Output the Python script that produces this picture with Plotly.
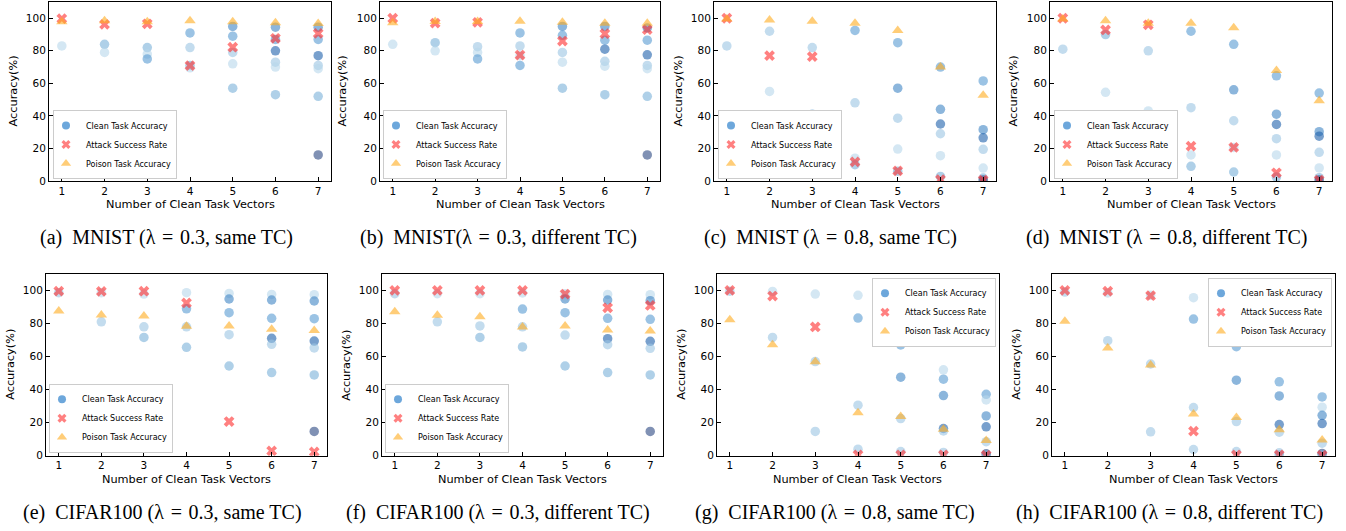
import plotly.graph_objects as go

W, H = 1346, 531

x_vals = [1, 2, 3, 4, 5, 6, 7]
y_ticks = [0, 20, 40, 60, 80, 100]
series_names = ["Clean Task Accuracy", "Attack Success Rate", "Poison Task Accuracy"]
x_title = "Number of Clean Task Vectors"
y_title = "Accuracy(%)"

captions = [
    "(a)\u2002MNIST (\u03bb\u2004=\u20040.3, same TC)",
    "(b)\u2002MNIST(\u03bb\u2004=\u20040.3, different TC)",
    "(c)\u2002MNIST (\u03bb\u2004=\u20040.8, same TC)",
    "(d)\u2002MNIST (\u03bb\u2004=\u20040.8, different TC)",
    "(e)\u2002CIFAR100 (\u03bb\u2004=\u20040.3, same TC)",
    "(f)\u2002CIFAR100 (\u03bb\u2004=\u20040.3, different TC)",
    "(g)\u2002CIFAR100 (\u03bb\u2004=\u20040.8, same TC)",
    "(h)\u2002CIFAR100 (\u03bb\u2004=\u20040.8, different TC)",
]

# ---- (a) MNIST, lambda 0.3, same TC ----
a_clean = [[83], [84, 79], [82, 78, 75], [91, 82, 71, 69.5], [95, 89, 79, 72, 57],
           [94.5, 87, 80, 73, 70, 53], [94.5, 87, 77, 71, 69, 52, 16]]
a_task = [[1], [3, 1], [3, 1, 4], [4, 2, 3, 1], [5, 4, 2, 1, 3],
          [5, 4, 6, 2, 1, 3], [5, 4, 6, 2, 1, 3, 7]]
a_asr = [99.8, 96.2, 96.6, 70.9, 82.2, 87.7, 90.7]
a_pta = [97.8, 98.4, 97.8, 98.4, 97.8, 97.2, 96.8]

# ---- (b) MNIST, lambda 0.3, different TC ----
b_clean = [[84], [85, 80], [82.5, 79, 75], [91, 83, 77, 71], [95, 89.5, 79, 73, 57],
           [95, 86.5, 81, 73.5, 70.5, 53], [94, 86.5, 77.5, 71, 69, 52, 16]]
b_task = [[1], [3, 1], [2, 1, 4], [4, 2, 1, 4], [5, 4, 2, 1, 3],
          [5, 4, 6, 2, 1, 3], [5, 4, 6, 2, 1, 3, 7]]
b_asr = [100, 97, 97.5, 77.4, 86, 90.5, 93]
b_pta = [97.2, 98, 98, 98.2, 97.6, 97, 97]

# ---- (c) MNIST, lambda 0.8, same TC ----
c_clean = [[83], [92, 55], [82, 41], [92.5, 48, 14, 10], [85, 57, 38.6, 19.6, 6],
           [70, 44, 35, 29, 15.5, 2.8], [61.5, 31.5, 26.5, 19.4, 7.9, 1.8, 0.5]]
c_task = [[2], [2, 1], [2, 4], [4, 2, 1, 3], [4, 5, 2, 1, 3],
          [4, 5, 6, 2, 1, 3], [4, 5, 6, 2, 1, 3, 7]]
c_asr = [100, 77, 76.4, 11.7, 6.2, 0.8, 0.5]
c_pta = [99.5, 99, 98.2, 97, 92.5, 70, 52.7]

# ---- (d) MNIST, lambda 0.8, different TC ----
d_clean = [[81], [90, 54.5], [80, 43, 37.5], [92, 45, 16, 9], [84, 56, 37, 20.6, 5.5],
           [64.6, 41, 34.7, 26, 16, 2.4], [54, 30.3, 27.5, 17.6, 8, 2, 0.5]]
d_task = [[2], [3, 1], [2, 1, 4], [4, 2, 1, 3], [4, 5, 2, 1, 3],
          [4, 5, 6, 2, 1, 3], [4, 5, 6, 2, 1, 3, 7]]
d_asr = [100, 92.8, 96, 21.4, 20.6, 5, 0.5]
d_pta = [99.5, 98.5, 97, 97, 94.1, 67.9, 49.3]

# ---- (e) CIFAR100, lambda 0.3, same TC ----
e_clean = [[98.6], [98.6, 81], [97.8, 78, 71.6], [98.6, 88.9, 78, 65.6],
           [98.2, 94.8, 86.5, 73.2, 54.3], [97.6, 94.2, 83.1, 71, 67.4, 50.3],
           [97.4, 93.6, 82.9, 69.4, 65.2, 48.9, 14.7]]
e_task = [[2], [1, 2], [1, 2, 3], [1, 4, 2, 3], [1, 5, 4, 2, 3],
          [1, 5, 4, 6, 2, 3], [1, 5, 4, 6, 2, 3, 7]]
e_asr = [99.6, 99.4, 99.5, 92.4, 20.7, 3, 2.4]
e_pta = [87.5, 85.1, 84.5, 78.3, 78.5, 76.5, 75.7]

# ---- (f) CIFAR100, lambda 0.3, different TC ----
f_clean = [[98], [98, 81], [98, 78.5, 71.6], [98.5, 88.7, 78, 65.8],
           [98, 94.8, 86.5, 73, 54.3], [97.6, 94.2, 83.1, 70.8, 67.2, 50.3],
           [97.4, 93.8, 82.5, 69.2, 65, 48.9, 14.7]]
f_task = [[2], [1, 2], [1, 2, 3], [1, 4, 2, 3], [1, 5, 4, 2, 3],
          [1, 5, 4, 6, 2, 3], [1, 5, 4, 6, 2, 3, 7]]
f_asr = [100, 100, 100, 100, 97.8, 89.5, 90.9]
f_pta = [87.1, 85, 84.1, 77.9, 78.5, 76, 75.5]

# ---- (g) CIFAR100, lambda 0.8, same TC ----
g_clean = [[99.5], [99.4, 71.6], [97.8, 57, 14.7], [97, 83.3, 30.6, 4],
           [91, 67, 47.5, 22.5, 2.6], [52, 46.3, 36.4, 16.5, 15, 2],
           [37.2, 33.8, 24.1, 17.5, 8.5, 1.2, 0.5]]
g_task = [[2], [1, 2], [1, 2, 2], [1, 4, 2, 2], [1, 4, 5, 2, 2],
          [1, 4, 5, 6, 2, 2], [4, 1, 5, 6, 2, 7, 3]]
g_asr = [100, 96.6, 77.9, 0.5, 0.5, 0.5, 0.3]
g_pta = [82.3, 67.2, 56.9, 26, 23.7, 16.1, 9.3]

# ---- (h) CIFAR100, lambda 0.8, different TC ----
h_clean = [[99], [98.5, 69.6], [97, 55.5, 14.5], [95.6, 82.7, 29.2, 3.8],
           [85.9, 66, 45.7, 20.7, 2.6], [44.7, 36.2, 18.9, 14.3, 1.8, 0.5],
           [35.6, 29.4, 24.5, 19.5, 7.6, 1.4, 0.5]]
h_task = [[2], [1, 2], [1, 2, 2], [1, 4, 2, 2], [1, 4, 5, 2, 2],
          [4, 5, 6, 2, 2, 3], [4, 1, 5, 6, 2, 7, 3]]
h_asr = [100, 99.5, 96.8, 14.9, 0.5, 0.5, 0.3]
h_pta = [81.3, 65.2, 54.9, 25.2, 23.1, 15.7, 9.5]

panels = [
    (a_clean, a_task, a_asr, a_pta), (b_clean, b_task, b_asr, b_pta),
    (c_clean, c_task, c_asr, c_pta), (d_clean, d_task, d_asr, d_pta),
    (e_clean, e_task, e_asr, e_pta), (f_clean, f_task, f_asr, f_pta),
    (g_clean, g_task, g_asr, g_pta), (h_clean, h_task, h_asr, h_pta),
]

# ---------------- styling / geometry ----------------
task_colors = {
    1: "rgba(183,215,235,0.6)",
    2: "rgba(155,197,227,0.6)",
    3: "rgba(122,177,217,0.6)",
    4: "rgba(88,155,210,0.6)",
    5: "rgba(63,133,197,0.6)",
    6: "rgba(30,97,172,0.6)",
    7: "rgba(43,72,130,0.6)",
}
legend_clean_color = "rgba(30,120,200,0.65)"
asr_color = "rgba(255,43,43,0.6)"
pta_color = "rgba(255,172,30,0.6)"

# axes boxes in pixels: (left, right, top, bottom)
boxes = [
    (49, 331, 2, 183), (380, 660, 2, 183), (714, 996, 2, 183), (1050, 1332, 2, 183),
    (46, 327, 277, 461), (382, 663, 277, 461), (717, 999, 277, 461), (1052, 1335, 277, 461),
]
ytitle_x = [13, 342, 678, 1013, 11, 347, 682, 1017]
caption_x = [166, 498, 830, 1167, 162, 498, 835, 1169]
# legend anchor: (x_px, y_px, xanchor, yanchor)
legend_anchor = [
    (53, 181, "left", "bottom"), (383, 181, "left", "bottom"),
    (718, 181, "left", "bottom"), (1054, 181, "left", "bottom"),
    (49, 458, "left", "bottom"), (385, 458, "left", "bottom"),
    (996, 281, "right", "top"), (1332, 281, "right", "top"),
]

FONT = "DejaVu Sans"
SERIF = "Liberation Serif"

fig = go.Figure()
layout = dict(
    width=W, height=H, autosize=False,
    margin=dict(l=0, r=0, t=0, b=0),
    paper_bgcolor="white", plot_bgcolor="white",
    font=dict(family=FONT, color="black"),
    annotations=[],
)


def px_x(p):
    return p / W


def px_y(p):
    return 1 - p / H


for i, (clean, task, asr, pta) in enumerate(panels):
    n = i + 1
    xa = "x" if n == 1 else f"x{n}"
    ya = "y" if n == 1 else f"y{n}"
    lg = "legend" if n == 1 else f"legend{n}"
    xs, ys, cols = [], [], []
    for k, (vals, tks) in enumerate(zip(clean, task)):
        for v, t in zip(vals, tks):
            xs.append(x_vals[k])
            ys.append(v)
            cols.append(task_colors[t])
    fig.add_trace(go.Scatter(
        x=xs, y=ys, mode="markers", xaxis=xa, yaxis=ya, showlegend=False,
        marker=dict(symbol="circle", size=9.5, color=cols, line=dict(width=0)),
        hoverinfo="skip"))
    fig.add_trace(go.Scatter(
        x=x_vals, y=asr, mode="markers", xaxis=xa, yaxis=ya, showlegend=False,
        marker=dict(symbol="x", size=9.5, color=asr_color, line=dict(width=0)),
        hoverinfo="skip"))
    fig.add_trace(go.Scatter(
        x=x_vals, y=pta, mode="markers", xaxis=xa, yaxis=ya, showlegend=False,
        marker=dict(symbol="triangle-up", size=10, color=pta_color, line=dict(width=0)),
        hoverinfo="skip"))
    # legend entries
    for name, sym, col, sz in zip(series_names, ["circle", "x", "triangle-up"],
                                  [legend_clean_color, asr_color, pta_color],
                                  [8, 8, 9]):
        fig.add_trace(go.Scatter(
            x=[None], y=[None], mode="markers", name=name, legend=lg,
            xaxis=xa, yaxis=ya, showlegend=True,
            marker=dict(symbol=sym, size=sz, color=col, line=dict(width=0))))

    l, r, t, b = boxes[i]
    axis_common = dict(showline=True, mirror=True, linecolor="black", linewidth=1,
                       ticks="inside", ticklen=3.5, tickwidth=1, tickcolor="black",
                       showgrid=False, zeroline=False,
                       tickfont=dict(family=FONT, size=10.5, color="black"))
    layout["xaxis" if n == 1 else f"xaxis{n}"] = dict(
        domain=[px_x(l), px_x(r)], range=[0.7, 7.3], anchor=ya,
        tickvals=x_vals, **axis_common)
    layout["yaxis" if n == 1 else f"yaxis{n}"] = dict(
        domain=[px_y(b), px_y(t)], range=[0, 110], anchor=xa,
        tickvals=y_ticks, **axis_common)

    lx, ly, xan, yan = legend_anchor[i]
    layout[lg] = dict(
        x=px_x(lx), y=px_y(ly), xanchor=xan, yanchor=yan, xref="paper", yref="paper",
        bgcolor="white", bordercolor="#cccccc", borderwidth=1,
        font=dict(family=FONT, size=8, color="black"),
        itemsizing="trace", indentation=-8, tracegroupgap=0)

    # axis titles
    layout["annotations"].append(dict(
        text=x_title, x=px_x((l + r) / 2), y=px_y(b + 24), xref="paper", yref="paper",
        showarrow=False, xanchor="center", yanchor="middle",
        font=dict(family=FONT, size=11.3, color="black")))
    layout["annotations"].append(dict(
        text=y_title, x=px_x(ytitle_x[i]), y=px_y((t + b) / 2), xref="paper", yref="paper",
        showarrow=False, xanchor="center", yanchor="middle", textangle=-90,
        font=dict(family=FONT, size=11.3, color="black")))
    layout["annotations"].append(dict(
        text=captions[i], x=px_x(caption_x[i]), y=px_y(b + 57), xref="paper", yref="paper",
        showarrow=False, xanchor="center", yanchor="middle",
        font=dict(family=SERIF, size=20, color="black")))

fig.update_layout(**layout)
fig.write_html("out.html")
